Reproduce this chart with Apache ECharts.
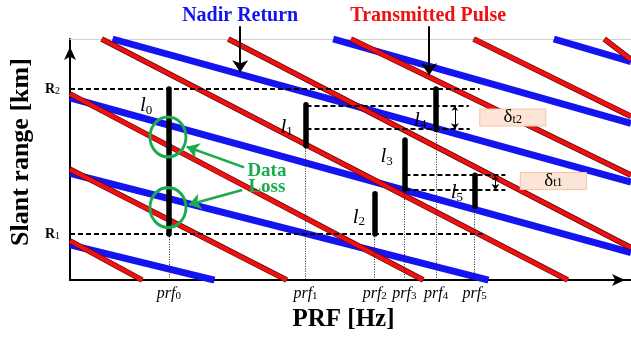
<!DOCTYPE html>
<html>
<head>
<meta charset="utf-8">
<script src="https://cdn.jsdelivr.net/npm/echarts@6/dist/echarts.min.js"></script>
<style>
  html, body { margin: 0; padding: 0; background: #ffffff; }
  #chart { width: 631px; height: 337px; }
</style>
</head>
<body>
<div id="chart"></div>
<script>
// Slant range versus PRF timing diagram, drawn in arbitrary linear units.

// Transmitted pulse traces: [start, end] as [prf, range]
const transmittedPulse = [
  [[0, 190], [357, 0]],
  [[0, 113], [219, 0]],
  [[0, 40], [73, 0]],
  [[32, 246], [503, 0]],
  [[160, 246], [567, 33]],
  [[284, 246], [567, 107]],
  [[408, 246], [567, 167]],
  [[540, 246], [567, 225]]
];

// Nadir return traces: [start, end] as [prf, range]
const nadirReturn = [
  [[0, 186], [567, 28]],
  [[0, 109], [423, 0]],
  [[0, 36], [146, 0]],
  [[43, 246], [567, 100]],
  [[266, 246], [567, 160]],
  [[489, 246], [567, 223]]
];

// Swath limits on the range axis
const rangeNames = ['1', '2'];
const rangeValues = [47, 195];

// Candidate PRFs on the frequency axis
const prfNames = ['0', '1', '2', '3', '4', '5'];
const prfValues = [100, 238, 308, 338, 370, 409];

// Echo windows l0..l5 at each PRF: lower and upper range
const windowBottom = [47, 137, 47, 93, 154, 75];
const windowTop = [195, 179, 88, 143, 195, 107];
const windowLabelAt = [[77, 178], [219, 156], [292, 64], [320, 126], [354, 163], [391, 89]];

// Dashed reference levels: [range, prf from, prf to]
const guideLevels = [
  [195, 0, 414],
  [47, 0, 417],
  [178, 239, 403],
  [154, 239, 404],
  [107, 339, 440],
  [92, 339, 440]
];

// Regions where the nadir return overlaps the echo window
const lossCentres = [[99, 146], [99, 74]];
const lossPointers = [
  [[176, 115], [118, 136]],
  [[174, 92], [120, 77]]
];

// Timing margins: [prf, upper range, lower range] and box centres
const deltaNames = ['t2', 't1'];
const deltaSpans = [[389, 178, 154], [430, 107, 92]];
const deltaBoxAt = [[447.5, 166], [488.5, 101]];

// Call-outs above the plot
const calloutNames = ['Nadir Return', 'Transmitted Pulse'];
const calloutAt = [[172, 270], [362, 270]];
const calloutPointers = [
  [[172, 259], [172, 212]],
  [[363, 259], [363, 209]]
];
const lossText = 'Data\nLoss';
const lossTextAt = [199, 103];

const SERIF = 'Liberation Serif';
const BLUE = '#1414f0';
const RED = '#f01010';
const GREEN = '#1cab4c';

function segments(list, lineStyle, extra) {
  return Object.assign({
    type: 'lines',
    coordinateSystem: 'cartesian2d',
    polyline: false,
    silent: true,
    animation: false,
    data: list.map(c => ({ coords: c })),
    lineStyle: lineStyle
  }, extra || {});
}

const subRich = {
  l: { fontFamily: SERIF, fontStyle: 'italic', fontSize: 21, lineHeight: 22, color: '#000' },
  s: { fontFamily: SERIF, fontSize: 13, lineHeight: 13, color: '#000', verticalAlign: 'bottom' }
};

const chart = echarts.init(document.getElementById('chart'), null, { renderer: 'canvas' });

const option = {
  animation: false,
  backgroundColor: '#ffffff',
  grid: { left: 64, right: 0, top: 39, bottom: 52, containLabel: false },
  xAxis: [
    {
      type: 'value', min: 0, max: 567, position: 'bottom',
      axisLine: {
        show: true, onZero: false,
        lineStyle: { color: '#000', width: 2 },
        symbol: ['none', 'arrow'], symbolSize: [9, 13], symbolOffset: [0, -6]
      },
      axisTick: { show: false },
      splitLine: { show: false },
      axisLabel: {
        customValues: prfValues,
        margin: 6,
        formatter: v => '{p|prf}{s|' + prfNames[prfValues.indexOf(v)] + '}',
        rich: {
          p: { fontFamily: SERIF, fontStyle: 'italic', fontSize: 16, lineHeight: 16, color: '#000' },
          s: { fontFamily: SERIF, fontSize: 11, lineHeight: 10, color: '#000', verticalAlign: 'bottom' }
        }
      },
      name: 'PRF [Hz]',
      nameLocation: 'middle',
      nameGap: 20,
      nameTextStyle: { fontFamily: SERIF, fontWeight: 'bold', fontSize: 25, color: '#000', padding: [0, 14, 0, 0] }
    },
    {
      type: 'value', min: 0, max: 567, position: 'top',
      axisLine: { show: true, onZero: false, lineStyle: { color: '#d2d2d2', width: 1 } },
      axisTick: { show: false },
      axisLabel: { show: false },
      splitLine: { show: false }
    }
  ],
  yAxis: {
    type: 'value', min: 0, max: 246,
    axisLine: {
      show: true, onZero: false,
      lineStyle: { color: '#000', width: 2 },
      symbol: ['none', 'arrow'], symbolSize: [9, 13], symbolOffset: [0, -8]
    },
    axisTick: { show: false },
    splitLine: { show: false },
    axisLabel: {
      customValues: rangeValues,
      margin: 10,
      formatter: v => '{r|R}{s|' + rangeNames[rangeValues.indexOf(v)] + '}',
      rich: {
        r: { fontFamily: SERIF, fontWeight: 'bold', fontSize: 14, lineHeight: 14, color: '#000' },
        s: { fontFamily: SERIF, fontSize: 10, lineHeight: 9, color: '#000', verticalAlign: 'bottom' }
      }
    },
    name: 'Slant range [km]',
    nameLocation: 'middle',
    nameRotate: 90,
    nameGap: 35,
    nameTextStyle: { fontFamily: SERIF, fontWeight: 'bold', fontSize: 26, color: '#000', padding: [0, 0, 0, 15] }
  },
  series: [
    segments(nadirReturn, { color: BLUE, width: 7, opacity: 1 }),
    segments(transmittedPulse, { color: '#5a0808', width: 5.6, opacity: 1 }),
    segments(transmittedPulse, { color: RED, width: 4.2, opacity: 1 }),
    segments(guideLevels.map(g => [[g[1], g[0]], [g[2], g[0]]]),
      { color: '#000', width: 2, type: [5, 3], opacity: 1 }),
    segments(prfValues.map((p, i) => [[p, windowBottom[i]], [p, 0]]),
      { color: '#222', width: 1, type: [1, 1.5], opacity: 1 }),
    segments(prfValues.map((p, i) => [[p, windowBottom[i]], [p, windowTop[i]]]),
      { color: '#000', width: 5.5, cap: 'round', opacity: 1 }),
    segments(calloutPointers, { color: '#000', width: 2, opacity: 1 },
      { symbol: ['none', 'arrow'], symbolSize: [10, 12], clip: false }),
    segments(lossPointers, { color: GREEN, width: 2.6, opacity: 1 },
      { symbol: ['none', 'arrow'], symbolSize: [11, 12] }),
    segments(deltaSpans.map(d => [[d[0], d[1]], [d[0], d[2]]]), { color: '#000', width: 1, opacity: 1 },
      { symbol: ['arrow', 'arrow'], symbolSize: [5, 6] }),
    {
      type: 'scatter', silent: true,
      symbol: 'path://M0,-1C0.5523,-1 1,-0.5523 1,0C1,0.5523 0.5523,1 0,1C-0.5523,1 -1,0.5523 -1,0C-1,-0.5523 -0.5523,-1 0,-1Z',
      symbolSize: [36, 40],
      itemStyle: { color: 'rgba(0,0,0,0)', borderColor: GREEN, borderWidth: 3, opacity: 1 },
      data: lossCentres
    },
    {
      type: 'scatter', silent: true, clip: false,
      symbolSize: 1,
      itemStyle: { color: 'rgba(0,0,0,0)', opacity: 1 },
      label: { show: true, position: 'inside' },
      data: [].concat(
        windowLabelAt.map((p, i) => ({
          value: p,
          label: { formatter: '{l|l}{s|' + i + '}', rich: subRich }
        })),
        calloutNames.map((n, i) => ({
          value: calloutAt[i],
          label: { formatter: n, fontFamily: SERIF, fontWeight: 'bold', fontSize: 20, color: i === 0 ? BLUE : RED }
        })),
        [{
          value: lossTextAt,
          label: { formatter: lossText, fontFamily: SERIF, fontWeight: 'bold', fontSize: 19, lineHeight: 16, color: GREEN, align: 'center' }
        }],
        deltaBoxAt.map((p, i) => ({
          value: p,
          label: {
            formatter: '{d|δ}{s|' + deltaNames[i] + '}',
            backgroundColor: '#fce4d6', borderColor: '#f6c4a3', borderWidth: 1,
            width: 65, height: 16, align: 'center', verticalAlign: 'middle',
            rich: {
              d: { fontFamily: SERIF, fontSize: 19, lineHeight: 16, color: '#000' },
              s: { fontFamily: SERIF, fontSize: 12, lineHeight: 11, color: '#000', verticalAlign: 'bottom' }
            }
          }
        }))
      )
    }
  ]
};

chart.setOption(option);
</script>
</body>
</html>
